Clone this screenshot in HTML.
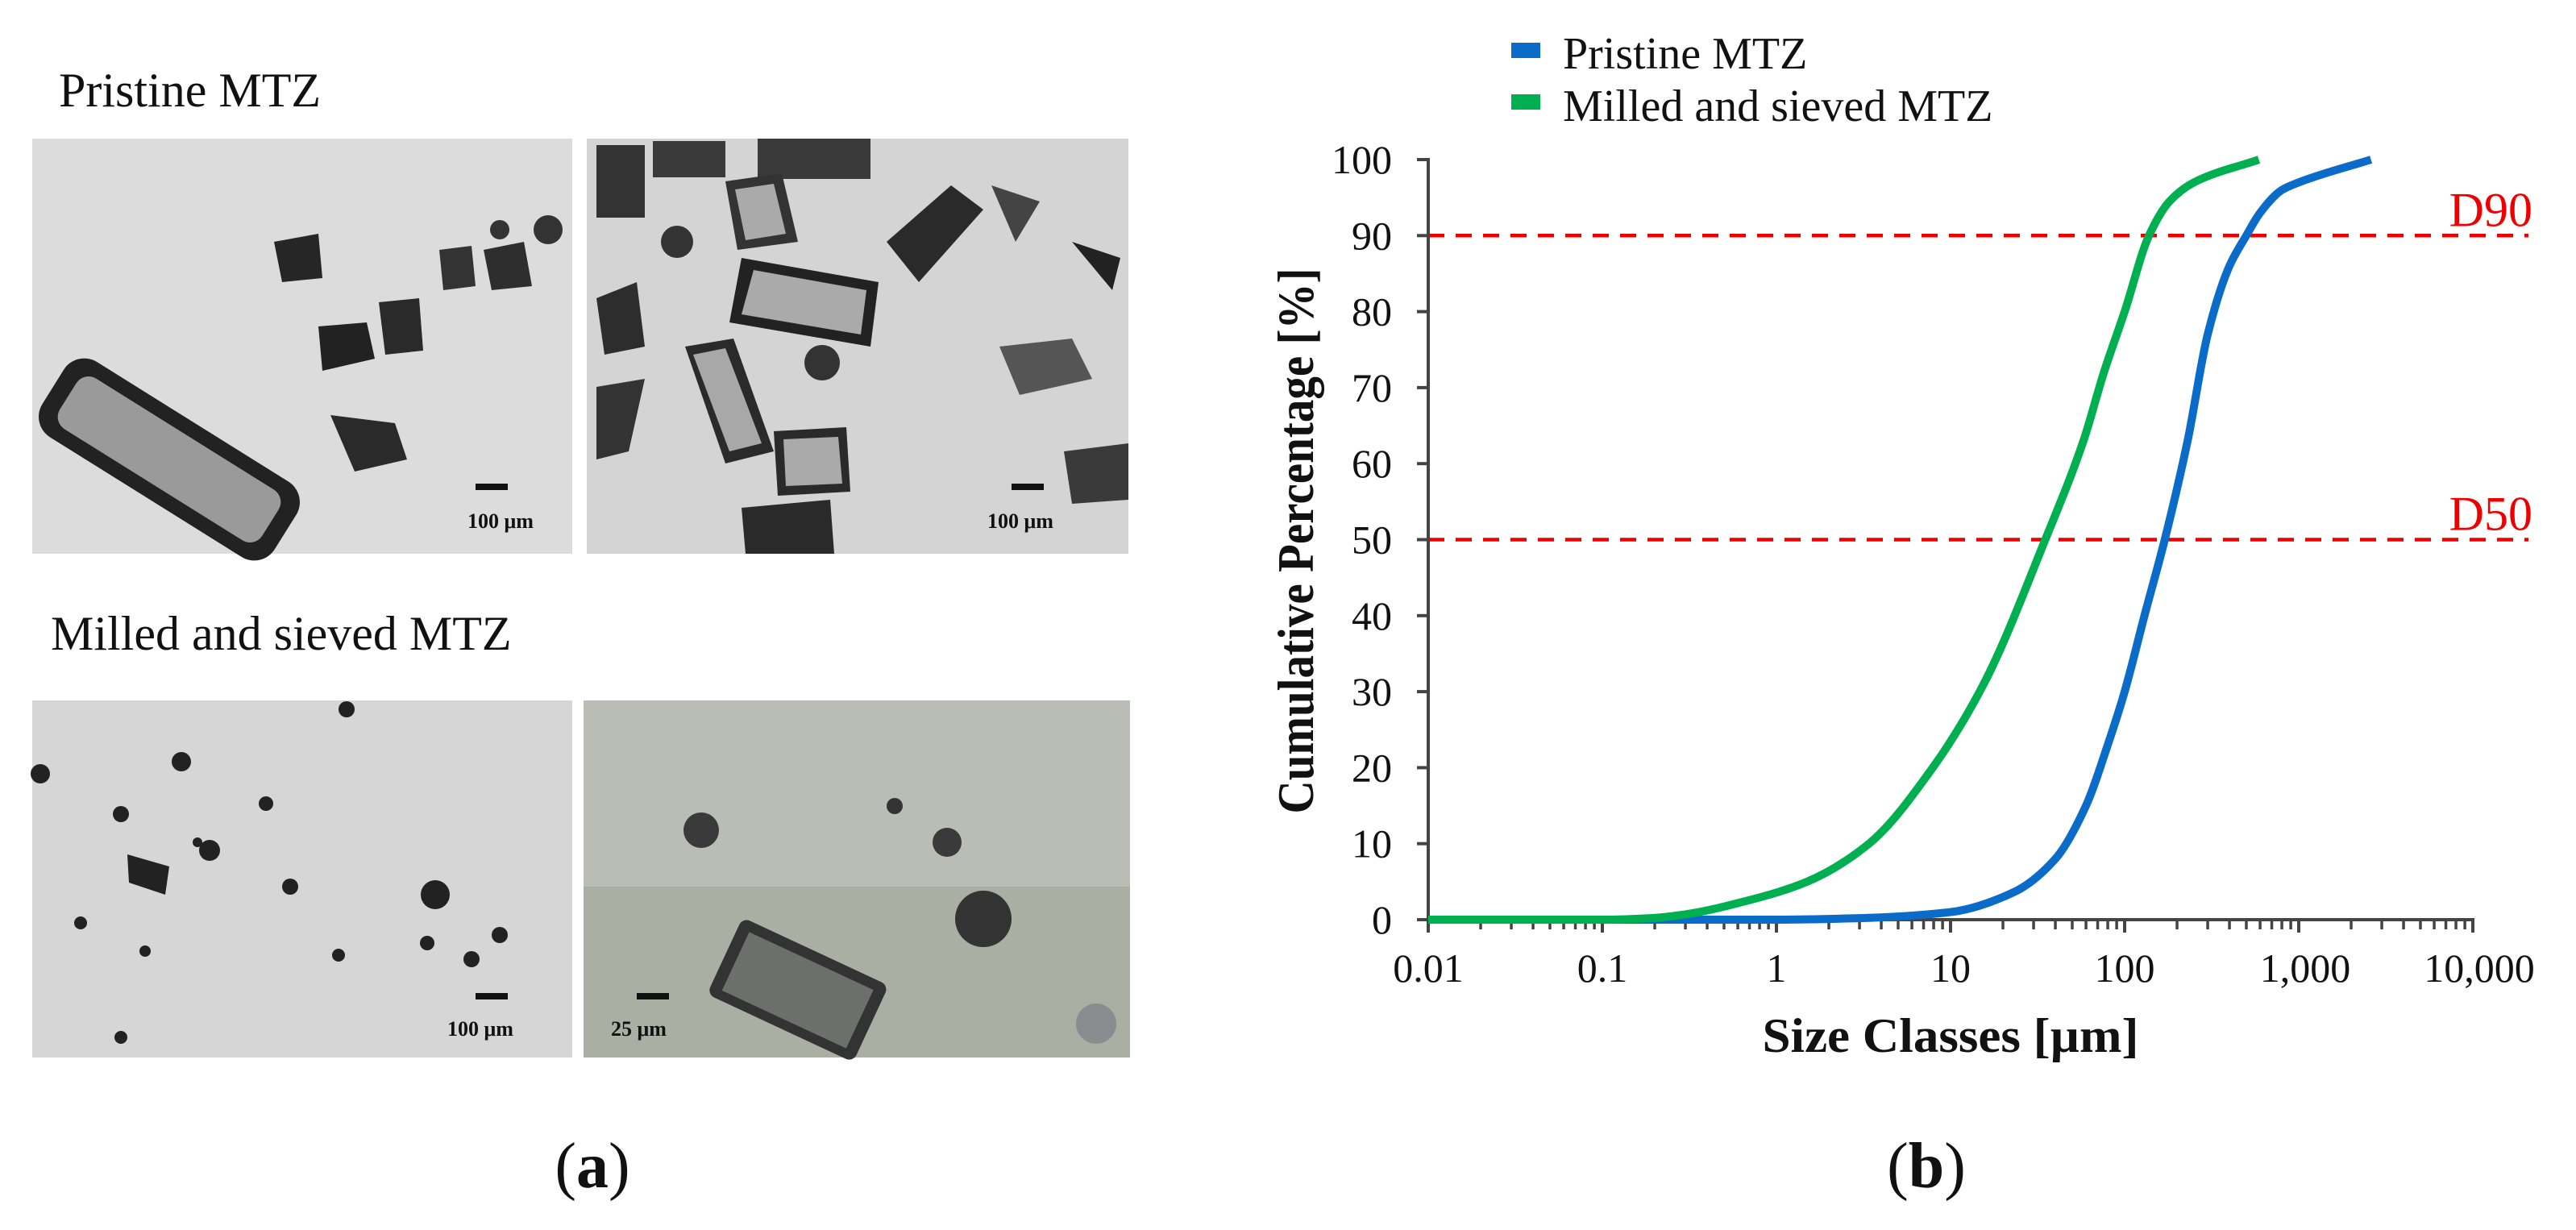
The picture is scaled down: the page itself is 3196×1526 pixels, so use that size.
<!DOCTYPE html>
<html><head><meta charset="utf-8"><style>
html,body{margin:0;padding:0;background:#fff;}
svg{display:block;}
text{font-family:"Liberation Serif",serif;}
</style></head><body>
<svg id="fig" width="3196" height="1526" viewBox="0 0 3196 1526" xmlns="http://www.w3.org/2000/svg">
<g>
  <text x="73" y="132" font-size="60" fill="#111">Pristine MTZ</text>
  <g>
    <rect x="40" y="172" width="670" height="515" fill="#dcdcdc"/>
    <g transform="rotate(32 210 570)"><rect x="40" y="515" width="340" height="110" rx="30" fill="#222"/><rect x="62" y="533" width="296" height="74" rx="18" fill="#9a9a9a"/></g>
    <polygon points="395,405 455,400 465,445 400,460" fill="#222"/>
    <polygon points="340,300 395,290 400,345 350,350" fill="#262626"/>
    <polygon points="470,375 520,370 525,435 478,440" fill="#2a2a2a"/>
    <polygon points="410,515 490,525 505,570 440,585" fill="#2a2a2a"/>
    <polygon points="545,310 585,305 590,355 550,360" fill="#333"/>
    <polygon points="600,310 650,300 660,355 610,360" fill="#2e2e2e"/>
    <circle cx="680" cy="285" r="18" fill="#333"/>
    <circle cx="620" cy="285" r="12" fill="#333"/>
    <rect x="590" y="600" width="40" height="8" fill="#111"/>
    <text x="580" y="655" font-size="26" font-weight="bold" fill="#111">100 μm</text>
  </g>
  <g>
    <rect x="728" y="172" width="672" height="515" fill="#d4d4d4"/>
    <rect x="740" y="180" width="60" height="90" fill="#333"/>
    <rect x="810" y="175" width="90" height="45" fill="#3a3a3a"/>
    <rect x="940" y="172" width="140" height="50" fill="#3a3a3a"/>
    <polygon points="900,225 970,215 990,300 915,310" fill="#333"/><polygon points="912,235 960,228 975,290 925,298" fill="#aaa"/>
    <polygon points="920,320 1090,350 1080,430 905,400" fill="#222"/><polygon points="935,335 1075,360 1068,415 920,390" fill="#aaa"/>
    <polygon points="1100,300 1180,230 1220,260 1140,350" fill="#2a2a2a"/>
    <polygon points="850,430 910,420 960,560 900,575" fill="#2a2a2a"/><polygon points="860,440 900,432 945,550 905,560" fill="#a8a8a8"/>
    <polygon points="960,535 1050,530 1055,610 965,615" fill="#2a2a2a"/><polygon points="972,545 1040,542 1045,600 975,603" fill="#aaa"/>
    <polygon points="920,630 1030,620 1035,687 925,687" fill="#2a2a2a"/>
    <polygon points="1240,430 1330,420 1355,470 1265,490" fill="#555"/>
    <polygon points="740,370 790,350 800,430 750,440" fill="#2d2d2d"/>
    <polygon points="740,480 800,470 780,560 740,570" fill="#333"/>
    <polygon points="1320,560 1400,550 1400,620 1330,625" fill="#3a3a3a"/>
    <polygon points="1330,300 1390,320 1380,360" fill="#222"/>
    <polygon points="1230,230 1290,250 1260,300" fill="#444"/>
    <circle cx="1020" cy="450" r="22" fill="#333"/>
    <circle cx="840" cy="300" r="20" fill="#333"/>
    <rect x="1255" y="600" width="40" height="8" fill="#111"/>
    <text x="1225" y="655" font-size="26" font-weight="bold" fill="#111">100 μm</text>
  </g>
  <text x="63" y="806" font-size="60" fill="#111">Milled and sieved MTZ</text>
  <g>
    <rect x="40" y="869" width="670" height="443" fill="#d6d6d6"/>
    <polygon points="158,1060 210,1075 205,1110 160,1095" fill="#222"/>
    <circle cx="540" cy="1110" r="18" fill="#222"/><circle cx="260" cy="1055" r="13" fill="#222"/>
    <circle cx="225" cy="945" r="12" fill="#222"/><circle cx="150" cy="1010" r="10" fill="#222"/>
    <circle cx="330" cy="997" r="9" fill="#222"/><circle cx="360" cy="1100" r="10" fill="#222"/>
    <circle cx="430" cy="880" r="10" fill="#222"/><circle cx="50" cy="960" r="12" fill="#222"/>
    <circle cx="530" cy="1170" r="9" fill="#222"/><circle cx="620" cy="1160" r="10" fill="#222"/>
    <circle cx="585" cy="1190" r="10" fill="#222"/><circle cx="100" cy="1145" r="8" fill="#222"/>
    <circle cx="420" cy="1185" r="8" fill="#222"/><circle cx="150" cy="1287" r="8" fill="#222"/>
    <circle cx="180" cy="1180" r="7" fill="#222"/><circle cx="245" cy="1045" r="6" fill="#222"/>
    <rect x="590" y="1232" width="40" height="8" fill="#111"/>
    <text x="555" y="1285" font-size="26" font-weight="bold" fill="#111">100 μm</text>
  </g>
  <g>
    <rect x="724" y="869" width="678" height="443" fill="#b9bdb6"/>
    <rect x="724" y="1100" width="678" height="212" fill="#9fa796" opacity="0.6"/>
    <g transform="rotate(25 1000 1230)"><rect x="890" y="1180" width="200" height="105" rx="10" fill="#333"/><rect x="905" y="1193" width="170" height="80" fill="#6b716a"/></g>
    <circle cx="1220" cy="1140" r="35" fill="#333"/>
    <circle cx="870" cy="1030" r="22" fill="#3a3a3a"/><circle cx="1175" cy="1045" r="18" fill="#3a3a3a"/><circle cx="1110" cy="1000" r="10" fill="#333"/>
    <circle cx="1360" cy="1270" r="25" fill="#8a8c90"/>
    <rect x="790" y="1232" width="40" height="8" fill="#111"/>
    <text x="758" y="1285" font-size="26" font-weight="bold" fill="#111">25 μm</text>
  </g>
  <text x="735" y="1473" font-size="80" text-anchor="middle" fill="#111">(<tspan font-weight="bold">a</tspan>)</text>
</g>
<g id="chart"></g>
<text x="2390" y="1473" font-size="80" text-anchor="middle" fill="#111">(<tspan font-weight="bold">b</tspan>)</text>
</svg>
<script>
const xTickValues = [0.01, 0.1, 1, 10, 100, 1000, 10000];
const xTickLabels = ["0.01", "0.1", "1", "10", "100", "1,000", "10,000"];
const yTickValues = [0, 10, 20, 30, 40, 50, 60, 70, 80, 90, 100];
const pristineX = [0.01, 1, 3, 10, 23, 40, 60, 80, 100, 130, 170, 230, 300, 400, 500, 600, 800, 1000, 2600];
const pristineY = [0, 0, 0.2, 1, 3.6, 8, 15, 23, 30, 40, 50, 63, 77, 86, 90, 93, 96, 97, 100];
const milledX = [0.01, 0.1, 0.19, 0.3, 0.68, 1.5, 3.4, 7.9, 15.5, 35, 58, 76, 100, 138, 181, 250, 590];
const milledY = [0, 0, 0.2, 0.7, 2.5, 5, 10, 20, 31, 50, 63, 72, 80, 90, 94.5, 97, 100];
const refLevels = [90, 50];
const refLabels = ["D90", "D50"];

const NS = "http://www.w3.org/2000/svg";
const X0 = 1772, X1 = 3068, Y0 = 1141, Y1 = 198;
const xMin = 0.01, xMax = 10000;
function sx(v){ return X0 + (Math.log10(v) - Math.log10(xMin)) / (Math.log10(xMax) - Math.log10(xMin)) * (X1 - X0); }
function sy(v){ return Y0 - v / 100 * (Y0 - Y1); }
const chart = document.getElementById("chart");
function mk(tag, attrs, parent){ const e = document.createElementNS(NS, tag); for (const k in attrs) e.setAttribute(k, attrs[k]); (parent||chart).appendChild(e); return e; }

refLevels.forEach((lv, i) => {
  const l = mk("line", {x1: X0, x2: 3137, y1: sy(lv), y2: sy(lv), stroke: "#ee0000", "stroke-width": 4.5, "stroke-dasharray": "20 14"});
  
  
  const t = mk("text", {x: 3142, y: sy(lv) - 12, "font-size": 60, "text-anchor": "end", fill: "#ee0000"});
  t.textContent = refLabels[i];
  
  
});

const ya = mk("line", {x1: X0, x2: X0, y1: Y1 - 2, y2: Y0 + 14, stroke: "#444", "stroke-width": 4});


const xa = mk("line", {x1: X0 - 14, x2: X1 + 2, y1: Y0, y2: Y0, stroke: "#444", "stroke-width": 4});



yTickValues.forEach(v => {
  const tk = mk("line", {x1: X0 - 14, x2: X0, y1: sy(v), y2: sy(v), stroke: "#444", "stroke-width": 4});
  
  
  const t = mk("text", {x: 1727, y: sy(v) + 17, "font-size": 50, "text-anchor": "end", fill: "#111"});
  t.textContent = String(v);
  
  
});

xTickValues.forEach((v, i) => {
  const tk = mk("line", {x1: sx(v), x2: sx(v), y1: Y0, y2: Y0 + 16, stroke: "#444", "stroke-width": 4});
  
  
  if (i < xTickValues.length - 1) {
    for (let m = 2; m <= 9; m++) {
      const mt = mk("line", {x1: sx(v * m), x2: sx(v * m), y1: Y0, y2: Y0 + 12, stroke: "#444", "stroke-width": 3.5});
      
      
    }
  }
  const t = mk("text", {x: sx(v) + (xTickLabels[i].includes(",") ? 8 : 0), y: 1218, "font-size": 50, "text-anchor": "middle", fill: "#111"});
  t.textContent = xTickLabels[i];
  
  
});

// monotone cubic (Fritsch-Carlson) in pixel space
function series(xs, ys, color, name){
  const px = xs.map(sx), py = ys.map(sy), n = px.length;
  const d = [], m = new Array(n);
  for (let i = 0; i < n - 1; i++) d.push((py[i+1] - py[i]) / (px[i+1] - px[i]));
  m[0] = d[0]; m[n-1] = d[n-2];
  for (let i = 1; i < n - 1; i++) {
    if (d[i-1] * d[i] <= 0) m[i] = 0;
    else {
      const h0 = px[i] - px[i-1], h1 = px[i+1] - px[i];
      const w1 = 2*h1 + h0, w2 = h1 + 2*h0;
      m[i] = (w1 + w2) / (w1 / d[i-1] + w2 / d[i]);
    }
  }
  let path = "M" + px[0] + "," + py[0];
  for (let i = 0; i < n - 1; i++) {
    const h = (px[i+1] - px[i]) / 3;
    path += " C" + (px[i] + h) + "," + (py[i] + m[i]*h) + " " + (px[i+1] - h) + "," + (py[i+1] - m[i+1]*h) + " " + px[i+1] + "," + py[i+1];
  }
  const p = mk("path", {d: path, fill: "none", stroke: color, "stroke-width": 10, "stroke-linejoin": "round"});
  
  
}
series(pristineX, pristineY, "#0a6cc8", "pristine-mtz-line");
series(milledX, milledY, "#00b050", "milled-mtz-line");

const xt = mk("text", {x: 2420, y: 1305, "font-size": 60, "font-weight": "bold", "text-anchor": "middle", fill: "#111", textLength: 467, lengthAdjust: "spacingAndGlyphs"});
xt.textContent = "Size Classes [µm]";


const yt = mk("text", {x: 0, y: 0, "font-size": 64, "font-weight": "bold", "text-anchor": "middle", fill: "#111", textLength: 677, lengthAdjust: "spacingAndGlyphs", transform: "translate(1629,671) rotate(-90)"});
yt.textContent = "Cumulative Percentage [%]";



const legNames = ["Pristine MTZ", "Milled and sieved MTZ"];
const legColors = ["#0a6cc8", "#00b050"];
legNames.forEach((n, i) => {
  const g = mk("g", {});
  
  
  mk("rect", {x: 1875, y: 53 + i * 64, width: 36, height: 19, fill: legColors[i]}, g);
  const t = mk("text", {x: 1939, y: 85 + i * 65, "font-size": 56, fill: "#111"}, g);
  t.textContent = n;
});
</script>
</body></html>
